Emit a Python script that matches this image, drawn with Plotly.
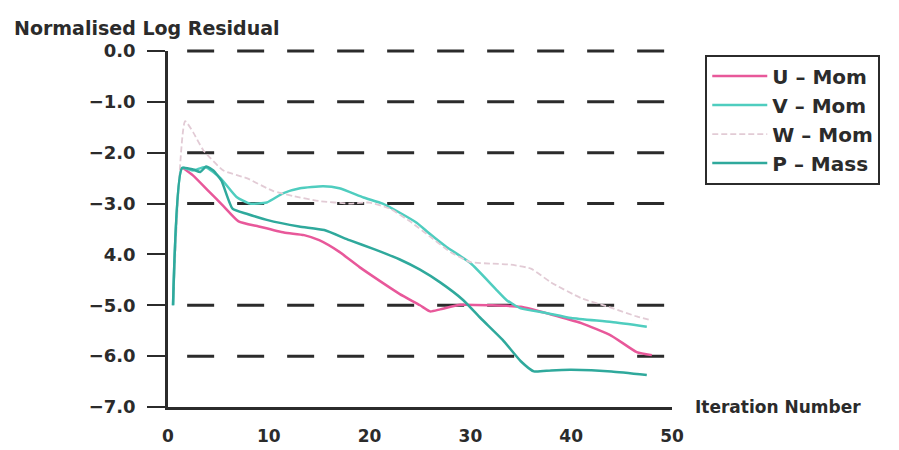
import plotly.graph_objects as go

# ---- data ----
u_x = [1.5, 2.5, 4, 5.5, 7, 9, 11.5, 13.5, 15, 17, 19, 21, 23, 25, 26, 27, 29, 32, 35, 38, 41, 44, 46.5, 48]
u_y = [-2.3, -2.45, -2.75, -3.05, -3.35, -3.45, -3.57, -3.62, -3.72, -3.95, -4.25, -4.52, -4.78, -5.0, -5.12, -5.08, -4.99, -5.0, -5.03, -5.18, -5.35, -5.6, -5.92, -5.98]

v_x = [0.5, 1.4, 2.5, 3.7, 5.2, 6.8, 8.1, 9.8, 11.4, 13.1, 15.4, 17, 19.4, 21.3, 23, 24.7, 26, 27.6, 30, 32.6, 33.6, 35, 37.5, 40, 44, 47.5]
v_y = [-5.0, -2.3, -2.35, -2.28, -2.5, -2.87, -3.0, -2.98, -2.8, -2.7, -2.66, -2.7, -2.88, -3.0, -3.18, -3.38, -3.6, -3.85, -4.17, -4.7, -4.9, -5.06, -5.15, -5.25, -5.33, -5.42]

w_x = [0.5, 1.7, 2.5, 3.5, 5.5, 7.8, 10.4, 12.4, 15, 18, 20, 22, 24, 26, 28, 30, 32, 34, 36, 38, 41, 44, 46.5, 48]
w_y = [-5.0, -1.38, -1.6, -1.95, -2.35, -2.5, -2.75, -2.85, -2.95, -3.0, -2.98, -3.1, -3.35, -3.65, -3.95, -4.15, -4.18, -4.2, -4.28, -4.55, -4.86, -5.05, -5.22, -5.3]

p_x = [0.5, 1.4, 2.5, 3.2, 3.8, 4.5, 5.3, 6.4, 7.8, 9.8, 13, 15.5, 18, 20.5, 23, 25, 27, 29.3, 31, 33.2, 35, 36.3, 38, 40, 44, 47.5]
p_y = [-5.0, -2.3, -2.33, -2.38, -2.27, -2.35, -2.55, -3.1, -3.2, -3.32, -3.45, -3.52, -3.72, -3.9, -4.1, -4.3, -4.55, -4.9, -5.25, -5.68, -6.1, -6.3, -6.28, -6.27, -6.3, -6.37]

series_names = ["U \u2013 Mom", "V \u2013 Mom", "W \u2013 Mom", "P \u2013 Mass"]

y_tickvals = [0, -1, -2, -3, -4, -5, -6, -7]
y_ticktext = ["0.0", "\u22121.0", "\u22122.0", "\u22123.0", "4.0", "\u22125.0", "\u22126.0", "\u22127.0"]
x_tickvals = [0, 10, 20, 30, 40, 50]
x_ticktext = ["0", "10", "20", "30", "40", "50"]
grid_levels = [0, -1, -2, -3, -5, -6]

FONT = "DejaVu Sans"
INK = "#2b2b2b"
Y_MIN, Y_MAX = -7, 0

fig = go.Figure()
fig.add_trace(go.Scatter(x=u_x, y=u_y, mode="lines", name=series_names[0],
                         line=dict(color="#e8589a", width=2.5, shape="spline", smoothing=0.5)))
fig.add_trace(go.Scatter(x=v_x, y=v_y, mode="lines", name=series_names[1],
                         line=dict(color="#4fcdbf", width=2.5, shape="spline", smoothing=0.5)))
fig.add_trace(go.Scatter(x=w_x, y=w_y, mode="lines", name=series_names[2],
                         line=dict(color="#e2cbd5", width=1.8, dash="6px,3px", shape="spline", smoothing=0.5)))
fig.add_trace(go.Scatter(x=p_x, y=p_y, mode="lines", name=series_names[3],
                         line=dict(color="#2fa99c", width=2.5, shape="spline", smoothing=0.5)))

# dashed horizontal reference lines (y in paper units so the top one is not clipped)
for lv in grid_levels:
    yp = (lv - Y_MIN) / (Y_MAX - Y_MIN)
    fig.add_shape(type="line", xref="x", yref="paper", x0=1.9, x1=50, y0=yp, y1=yp,
                  line=dict(color=INK, width=3, dash="27px,23px"), layer="below")

fig.update_layout(
    width=899, height=450,
    margin=dict(l=168, r=227, t=51, b=43, autoexpand=False),
    paper_bgcolor="white", plot_bgcolor="white",
    font=dict(family=FONT, color=INK, size=16),
    showlegend=True,
    legend=dict(x=1.066, y=0.99, xanchor="left", yanchor="top",
                bordercolor=INK, borderwidth=2, bgcolor="white",
                font=dict(family=FONT, size=20, color=INK, weight="bold"),
                itemwidth=55, tracegroupgap=0),
    xaxis=dict(range=[0, 50], tickvals=x_tickvals, ticktext=x_ticktext, automargin=False,
               showgrid=False, zeroline=False, showline=True, linecolor=INK, linewidth=2.5,
               ticks="", ticklabelstandoff=12,
               tickfont=dict(family=FONT, size=17, color=INK, weight="bold")),
    yaxis=dict(range=[Y_MIN, Y_MAX], tickvals=y_tickvals, ticktext=y_ticktext, automargin=False,
               showgrid=False, zeroline=False, showline=True, linecolor=INK, linewidth=2.5,
               ticks="outside", ticklen=18, tickwidth=2, tickcolor=INK, ticklabelstandoff=8,
               tickfont=dict(family=FONT, size=18, color=INK, weight="bold")),
    annotations=[
        dict(text="Normalised Log Residual", xref="paper", yref="paper",
             x=-156/504, y=1 + 23/356, xanchor="left", yanchor="middle", showarrow=False,
             font=dict(family=FONT, size=19, color=INK, weight="bold")),
        dict(text="Iteration Number", xref="paper", yref="paper",
             x=1 + 21/504, y=0, xanchor="left", yanchor="middle", showarrow=False,
             font=dict(family=FONT, size=17, color=INK, weight="bold")),
    ],
)

fig.write_html("out.html", config={"displayModeBar": False},
               post_script="document.body.style.margin='0';")
